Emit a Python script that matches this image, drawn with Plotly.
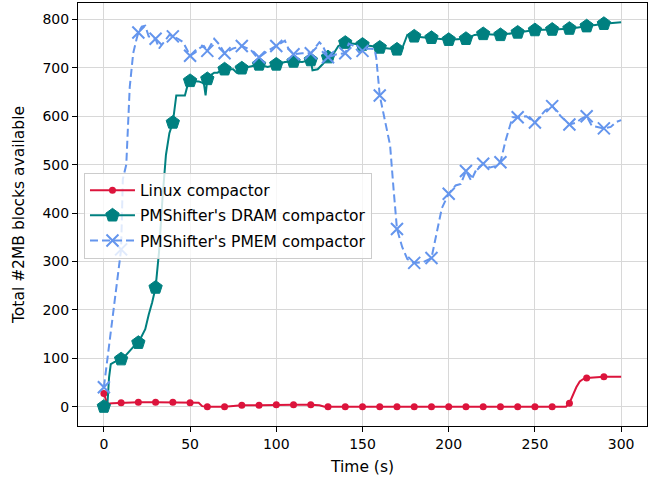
import plotly.graph_objects as go

# ---------------- data ----------------
linux_t = [0, 2, 5, 10, 15, 20, 30, 40, 50, 55, 57, 60, 70, 75, 80, 90, 100, 110, 120, 125, 128,
           130, 140, 150, 160, 170, 180, 190, 200, 210, 220, 230, 240, 250, 260, 268,
           270, 272, 274, 276, 278, 280, 290, 300]
linux_v = [27, 6, 7, 8, 9, 9, 9, 9, 8, 8, 1, 0, 0, 1, 3, 3, 4, 4, 4, 3, 0,
           0, 0, 0, 0, 0, 0, 0, 0, 0, 0, 0, 0, 0, 0, 0,
           7, 25, 40, 52, 57, 59, 62, 62]

dram_t = [0, 2, 3, 4, 6, 8, 10, 12, 15, 18, 20, 22, 24, 26, 28, 30, 32, 34, 36, 38, 40, 42, 47, 49,
          50, 55, 58, 59, 60, 62, 64, 66, 68, 70, 75, 77, 80, 85, 90, 95, 100, 105, 110, 115, 120,
          121, 124, 127, 130, 133, 136, 140, 145, 150, 155, 160, 165, 170, 173, 176, 180, 190, 200,
          210, 215, 220, 230, 240, 250, 260, 270, 280, 290, 300]
dram_v = [0, 0, 60, 88, 92, 95, 98, 103, 115, 127, 132, 145, 160, 190, 215, 246, 320, 430, 520, 565, 587, 643, 643, 670,
          673, 672, 668, 643, 677, 685, 690, 690, 695, 697, 697, 690, 699, 703, 707, 702, 707, 712, 713, 712, 716,
          695, 697, 708, 722, 728, 745, 752, 750, 748, 745, 742, 740, 738, 740, 768, 765, 762, 758,
          760, 768, 770, 768, 773, 778, 779, 781, 786, 791, 794]

pmem_t = [0, 10, 11, 13, 15, 17, 19, 20, 22, 24, 26, 28, 30, 32, 35, 38, 40, 43, 46, 50, 53, 56, 58,
          60, 64, 67, 70, 75, 80, 85, 88, 90, 95, 100, 105, 107, 110, 115, 120, 125, 127, 130, 135,
          140, 142, 145, 148, 150, 153, 157, 158, 160, 163, 166, 168, 170, 173, 176, 180, 185, 190,
          193, 196, 200, 204, 207, 210, 213, 216, 220, 224, 227, 230, 233, 237, 240, 245, 250, 253,
          256, 260, 265, 270, 274, 277, 280, 283, 287, 290, 294, 297, 300]
pmem_v = [40, 325, 470, 500, 660, 730, 760, 773, 785, 787, 765, 762, 760, 740, 755, 768, 765, 760, 753, 725, 732, 742, 745,
          735, 760, 748, 730, 740, 745, 738, 725, 722, 735, 745, 756, 740, 728, 730, 730, 753, 745, 722, 728,
          730, 750, 745, 732, 735, 740, 739, 720, 643, 590, 540, 450, 367, 330, 305, 297, 298, 307,
          360, 410, 440, 457, 460, 487, 467, 490, 502, 494, 497, 505, 550, 598, 598, 600, 587, 600,
          612, 621, 600, 583, 587, 595, 600, 580, 578, 575, 578, 588, 592]

x_ticks = [0, 50, 100, 150, 200, 250, 300]
y_ticks = [0, 100, 200, 300, 400, 500, 600, 700, 800]

names = ["Linux compactor", "PMShifter's DRAM compactor", "PMShifter's PMEM compactor"]
colors = ["#DC143C", "#008080", "#6495ED"]


def every10(t, v):
    xs, ys = [], []
    for a, b in zip(t, v):
        if a % 10 == 0 and a < 300:
            xs.append(a)
            ys.append(b)
    return xs, ys


series = [
    (linux_t, linux_v, dict(symbol="circle", size=7, color=colors[0]), "solid"),
    (dram_t, dram_v, dict(symbol="pentagon", size=14, color=colors[1],
                          line=dict(color=colors[1], width=1)), "solid"),
    (pmem_t, pmem_v, dict(symbol="x-thin", size=12, color=colors[2],
                          line=dict(color=colors[2], width=2)), "8px,4px"),
]

fig = go.Figure()
for i, (t, v, mk, dash) in enumerate(series):
    grp = "g%d" % i
    fig.add_trace(go.Scatter(x=t, y=v, mode="lines", line=dict(color=colors[i], width=2, dash=dash),
                             showlegend=False, legendgroup=grp, hoverinfo="skip"))
    mx, my = every10(t, v)
    fig.add_trace(go.Scatter(x=mx, y=my, mode="markers", marker=mk, showlegend=False,
                             legendgroup=grp))
    fig.add_trace(go.Scatter(x=[None], y=[None], mode="lines+markers", name=names[i],
                             line=dict(color=colors[i], width=2, dash=dash), marker=mk,
                             legendgroup=grp, showlegend=True))

font_family = "DejaVu Sans"
axis_common = dict(showgrid=True, gridcolor="#d8d8d8", gridwidth=1, zeroline=False,
                   showline=True, linecolor="black", linewidth=1, mirror=True,
                   ticks="outside", ticklen=5, tickcolor="black", tickwidth=1, automargin=False,
                   tickfont=dict(family=font_family, size=14, color="black"))

fig.update_layout(
    width=649, height=478,
    paper_bgcolor="white", plot_bgcolor="white",
    margin=dict(l=78, r=2, t=3, b=52),
    font=dict(family=font_family, size=15.5, color="black"),
    xaxis=dict(range=[-15, 315], tickvals=x_ticks, ticktext=[str(x) for x in x_ticks],
               title=dict(text="Time (s)", font=dict(family=font_family, size=15.5), standoff=10),
               **axis_common),
    yaxis=dict(range=[-40, 834], tickvals=y_ticks, ticktext=[str(y) for y in y_ticks],
               title=dict(text="Total #2MB blocks available", font=dict(family=font_family, size=15.5), standoff=14),
               **axis_common),
    legend=dict(x=0.0105, y=0.599, xanchor="left", yanchor="top",
                bgcolor="rgba(255,255,255,0.8)", bordercolor="#cccccc", borderwidth=1,
                font=dict(family=font_family, size=15.5), traceorder="grouped",
                tracegroupgap=2, itemwidth=45),
)

fig.write_html("out.html", config={"displayModeBar": False},
               post_script="document.body.style.margin='0px';")
